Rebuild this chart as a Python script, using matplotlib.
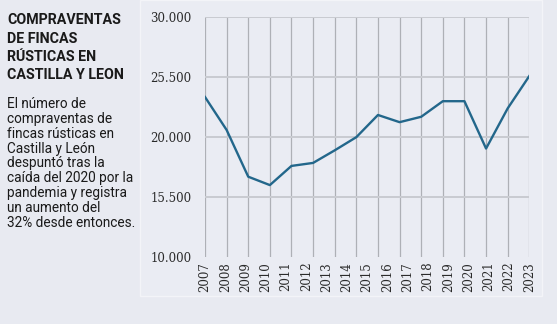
import matplotlib
matplotlib.use("Agg")
import matplotlib.pyplot as plt
from matplotlib.patches import Rectangle
import numpy as np

# Data (line vertices sit on the vertical gridlines, as in the source graphic)
values = [23350, 20600, 16700, 16000, 17600, 17850, 18900, 20000,
          21850, 21250, 21700, 23000, 23000, 19050, 22400, 25100]
year_labels = ["2007", "2008", "2009", "2010", "2011", "2012", "2013", "2014",
               "2015", "2016", "2017", "2018", "2019", "2020", "2021", "2022", "2023"]
y_ticks = [10000, 15000, 20000, 25000, 30000]
y_tick_labels = ["10.000", "15.500", "20.000", "25.500", "30.000"]

title_lines = ["COMPRAVENTAS", "DE FINCAS", "RÚSTICAS EN", "CASTILLA Y LEON"]
body_lines = ["El número de", "compraventas de", "fincas rústicas en",
              "Castilla y León", "despuntó tras la", "caída del 2020 por la",
              "pandemia y registra", "un aumento del", "32% desde entonces."]

BG = "#e8eaf1"
LINE = "#23678b"
GRID_V = "#aeb0b6"
GRID_H = "#c9cbd1"
FONT = ["Roboto", "DejaVu Sans"]

W, H = 557, 324
fig = plt.figure(figsize=(W / 100, H / 100), dpi=100, facecolor=BG)

# faint panel behind the chart
panel = Rectangle((140 / W, 1 - 296 / H), (541.5 - 140) / W, 296 / H,
                  transform=fig.transFigure, facecolor="#eaecf3",
                  edgecolor="#f3f4f8", linewidth=1.0, zorder=-5)
fig.patches.append(panel)

ax = fig.add_axes([205 / W, 1 - 257 / H, (529.3 - 205) / W, (257 - 17.3) / H])
ax.set_facecolor("none")
ax.set_zorder(2)

x = np.arange(len(values))
ax.plot(x, values, color=LINE, linewidth=1.7, zorder=3)

ax.set_xlim(0, len(values) - 1)
ax.set_ylim(10000, 30000)

for xi in x:
    ax.axvline(xi, color=GRID_V, linewidth=0.9, zorder=1)
for yt in y_ticks[1:]:
    ax.axhline(yt, color=GRID_H, linewidth=1.4, zorder=1)

label_pos = np.linspace(0, len(values) - 1, len(year_labels))
ax.set_xticks(label_pos)
ax.set_xticklabels(year_labels, rotation=90, family="DejaVu Serif",
                   fontsize=8.5, color="#2a2a2a")
ax.set_yticks(y_ticks)
ax.set_yticklabels(y_tick_labels, family="DejaVu Serif", fontsize=8.5, color="#2a2a2a")
ax.tick_params(axis="x", length=0, pad=3.5)
ax.tick_params(axis="y", length=0, pad=9.5)
for s in ax.spines.values():
    s.set_visible(False)

for i, t in enumerate(title_lines):
    fig.text(7 / W, 1 - (24.5 + 18.2 * i) / H, t, family=FONT, fontweight="bold",
             fontsize=10.3, va="baseline", ha="left", color="#1a1a1a")
for i, t in enumerate(body_lines):
    fig.text(7 / W, 1 - (108.3 + 14.8 * i) / H, t, family=FONT,
             fontsize=9.8, va="baseline", ha="left", color="#1a1a1a")

fig.savefig("out.png", dpi=100, facecolor=BG)
